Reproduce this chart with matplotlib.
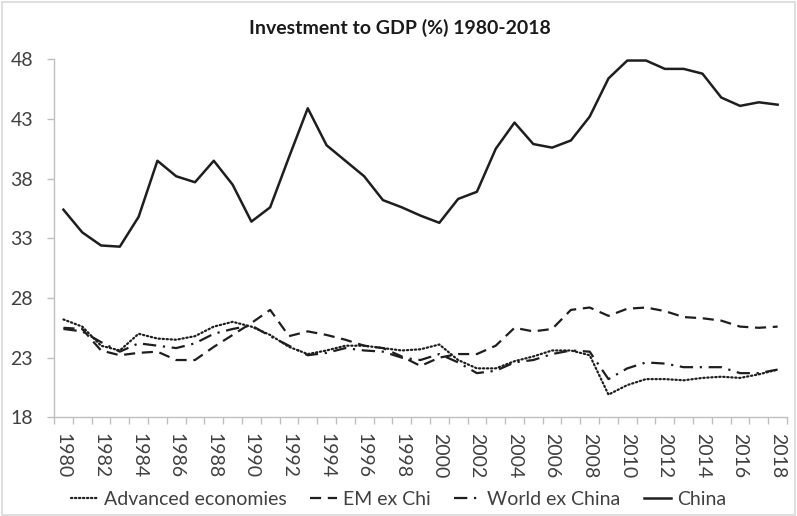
import numpy as np
import matplotlib
matplotlib.use("Agg")
import matplotlib.pyplot as plt

years = list(range(1980, 2019))

advanced = [26.2, 25.6, 24.0, 23.6, 25.0, 24.6, 24.5, 24.8, 25.6, 26.0,
            25.6, 24.9, 23.9, 23.3, 23.6, 24.0, 24.0, 23.8, 23.6, 23.7,
            24.1, 22.8, 22.1, 22.1, 22.7, 23.1, 23.6, 23.6, 23.2, 19.9,
            20.7, 21.2, 21.2, 21.1, 21.3, 21.4, 21.3, 21.6, 22.0]

em_ex_china = [25.5, 25.4, 23.6, 23.2, 23.4, 23.5, 22.8, 22.8, 23.9, 24.9,
               25.9, 27.0, 24.8, 25.2, 24.9, 24.5, 24.0, 23.8, 23.1, 22.3,
               23.0, 23.3, 23.3, 24.0, 25.5, 25.2, 25.4, 27.0, 27.2, 26.5,
               27.1, 27.2, 26.9, 26.4, 26.3, 26.1, 25.6, 25.5, 25.6]

world_ex_china = [25.4, 25.2, 24.3, 23.5, 24.2, 24.0, 23.8, 24.2, 25.0, 25.4,
                  25.7, 24.8, 24.0, 23.2, 23.4, 23.8, 23.6, 23.5, 23.0, 22.8,
                  23.3, 22.6, 21.7, 21.9, 22.6, 22.8, 23.3, 23.6, 23.5, 21.2,
                  22.1, 22.6, 22.5, 22.2, 22.2, 22.2, 21.7, 21.7, 22.0]

china = [35.4, 33.5, 32.4, 32.3, 34.8, 39.5, 38.2, 37.7, 39.5, 37.5,
         34.4, 35.6, 39.8, 43.9, 40.8, 39.5, 38.2, 36.2, 35.6, 34.9,
         34.3, 36.3, 36.9, 40.5, 42.7, 40.9, 40.6, 41.2, 43.2, 46.4,
         47.9, 47.9, 47.2, 47.2, 46.8, 44.8, 44.1, 44.4, 44.2]

y_ticks = [18, 23, 28, 33, 38, 43, 48]

plt.rcParams['font.family'] = ['Lato', 'DejaVu Sans']
text_color = '#404040'
line_color = '#1e1e1e'
axis_color = '#bfbfbf'

fig = plt.figure(figsize=(7.97, 5.16), dpi=100)
fig.patches.append(plt.Rectangle((0.002, 0.002), 0.996, 0.994, transform=fig.transFigure,
                                 fill=False, edgecolor='#d9d9d9', linewidth=1.2))
ax = fig.add_axes([0.0678, 0.1913, 0.9197, 0.6937])

x = np.arange(len(years))
ax.plot(x, advanced, color=line_color, lw=1.6, linestyle=(0, (0.6, 1.2)),
        dash_capstyle='round', label='Advanced economies')
ax.plot(x, em_ex_china, color=line_color, lw=1.6, linestyle=(0, (5, 3)),
        label='EM ex Chi')
ax.plot(x, world_ex_china, color=line_color, lw=1.6, linestyle=(0, (6, 3, 1, 3)),
        label='World ex China')
ax.plot(x, china, color=line_color, lw=1.8, linestyle='-', label='China')

ax.set_xlim(-0.5, len(years) - 0.5)
ax.set_ylim(18, 48)
ax.set_yticks(y_ticks)
ax.set_yticklabels([str(v) for v in y_ticks])

ax.set_xticks(x[::2])
ax.set_xticklabels([str(y) for y in years[::2]], rotation=-90)
ax.set_xticks(np.arange(-0.5, len(years)), minor=True)
ax.tick_params(axis='x', which='major', length=0, pad=11, labelsize=14, labelcolor=text_color)
ax.tick_params(axis='x', which='minor', length=5, color=axis_color, width=1)
ax.tick_params(axis='y', which='major', length=5, color=axis_color, width=1,
               labelsize=14, labelcolor=text_color, pad=10)

for side in ['top', 'right']:
    ax.spines[side].set_visible(False)
for side in ['left', 'bottom']:
    ax.spines[side].set_color(axis_color)
    ax.spines[side].set_linewidth(1)

fig.text(0.502, 0.945, 'Investment to GDP (%) 1980-2018', ha='center', va='center',
         fontsize=14, fontweight='bold', color='#1a1a1a')

fig.legend(loc='center', bbox_to_anchor=(0.5, 0.032), ncol=4, frameon=False,
           fontsize=14, handlelength=1.4, handletextpad=0.3, columnspacing=1.2,
           labelcolor=text_color)

plt.savefig('out.png', dpi=100)
